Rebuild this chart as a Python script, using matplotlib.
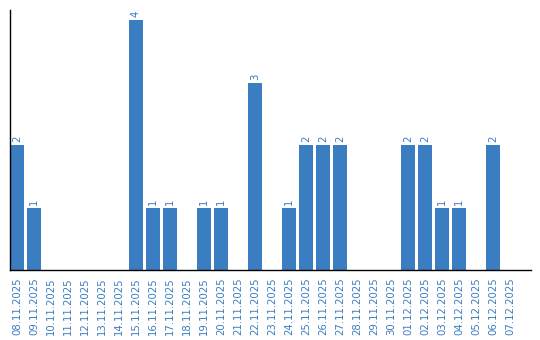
import matplotlib
matplotlib.use("Agg")
import matplotlib.pyplot as plt
import numpy as np

dates = ["08.11.2025", "09.11.2025", "10.11.2025", "11.11.2025", "12.11.2025",
         "13.11.2025", "14.11.2025", "15.11.2025", "16.11.2025", "17.11.2025",
         "18.11.2025", "19.11.2025", "20.11.2025", "21.11.2025", "22.11.2025",
         "23.11.2025", "24.11.2025", "25.11.2025", "26.11.2025", "27.11.2025",
         "28.11.2025", "29.11.2025", "30.11.2025", "01.12.2025", "02.12.2025",
         "03.12.2025", "04.12.2025", "05.12.2025", "06.12.2025", "07.12.2025"]
counts = [2, 1, 0, 0, 0, 0, 0, 4, 1, 1,
          0, 1, 1, 0, 3, 0, 1, 2, 2, 2,
          0, 0, 0, 2, 2, 1, 1, 0, 2, 0]

bar_color = "#3a7dc1"
text_color = "#3a7dc1"

fig = plt.figure(figsize=(5.4, 3.4), dpi=100)
ax = fig.add_axes([10 / 540, 70 / 340, 521 / 540, 260 / 340])

bw = 14 / 17
x = np.arange(len(dates))
ax.bar(x, counts, width=bw, align="edge", color=bar_color, linewidth=0)

for xi, v in zip(x, counts):
    if v > 0:
        ax.annotate(str(v), (xi + bw / 2, v), xytext=(0, 2), textcoords="offset points",
                    rotation=90, ha="center", va="bottom", fontsize=7.3, color=text_color)

ax.set_xlim(0, 521 / 17)
ax.set_ylim(0, 4.16)
ax.set_xticks(x + bw / 2)
ax.set_xticklabels(dates, rotation=90, fontsize=7.3, color=text_color)
ax.tick_params(axis="x", length=0, pad=5)
ax.set_yticks([])
for s in ["top", "right"]:
    ax.spines[s].set_visible(False)
for s in ["left", "bottom"]:
    ax.spines[s].set_color("black")
    ax.spines[s].set_linewidth(1.0)

fig.savefig("out.png", dpi=100)
